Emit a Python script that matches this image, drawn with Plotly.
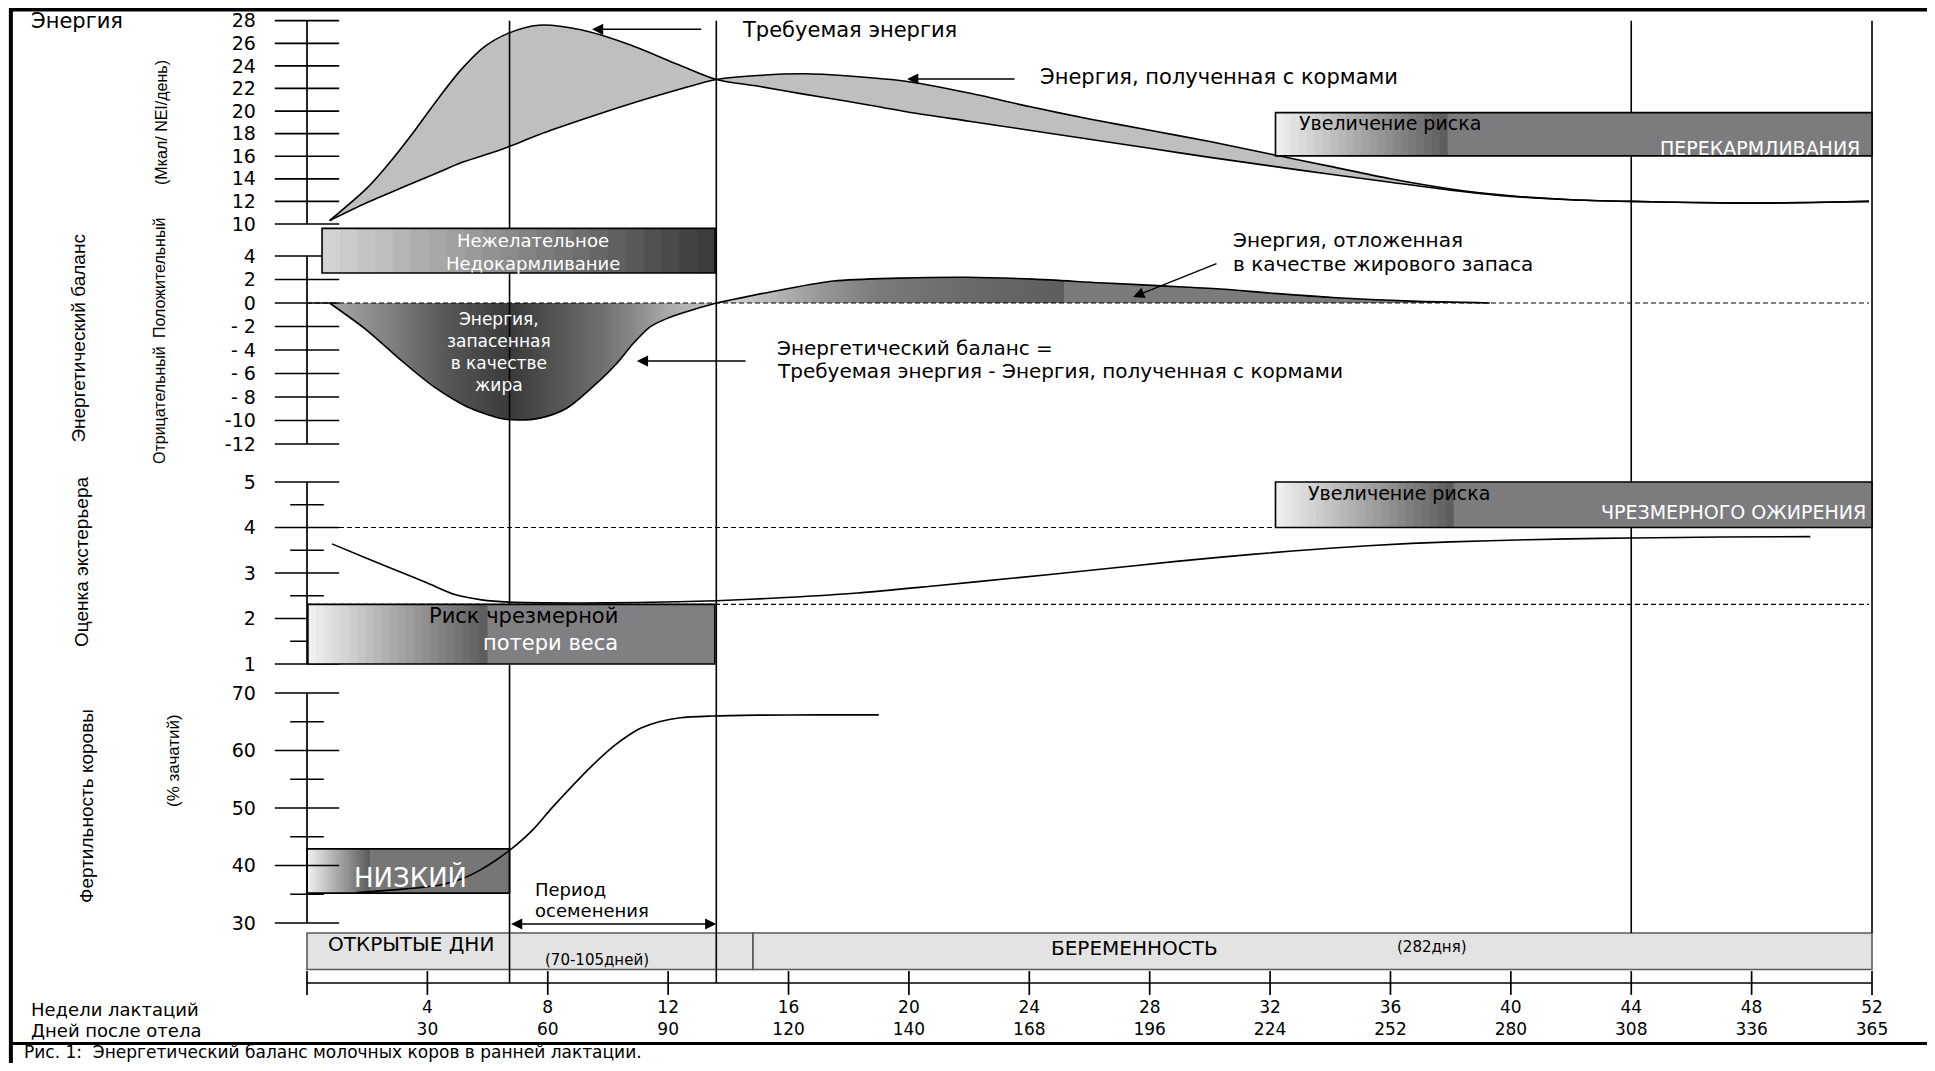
import plotly.graph_objects as go

# ---------------- data ----------------
E_WEEKS = [0.75, 2.0, 2.7, 3.5, 4.3, 5.1, 5.9, 6.7, 7.7, 9.1, 10.7, 12.35, 13.6, 15.0, 16.5, 18.0,
           20.0, 22.0, 24.0, 26.0, 28.0, 30.0, 32.0, 34.0, 36.0, 38.0, 40.0, 42.0, 44.0, 46.0, 48.0, 50.0, 51.9]
E_REQUIRED = [10.3, 13.2, 15.3, 18.0, 20.9, 23.6, 25.7, 26.9, 27.6, 27.2, 25.9, 24.1, 22.8, 22.2, 21.5, 20.85,
              19.9, 19.1, 18.3, 17.5, 16.7, 15.9, 15.15, 14.4, 13.7, 13.0, 12.45, 12.15, 12.0, 11.9, 11.85, 11.9, 12.0]
E_FEED = [10.3, 11.9, 12.7, 13.6, 14.5, 15.4, 16.1, 16.85, 17.9, 19.2, 20.6, 21.9, 22.8, 23.15, 23.3, 23.1,
          22.6, 21.6, 20.4, 19.3, 18.3, 17.3, 16.2, 15.1, 14.0, 13.1, 12.5, 12.15, 12.0, 11.9, 11.85, 11.9, 12.0]

BAL_NEG_W = [0.75, 1.98, 3.09, 4.2, 5.3, 6.41, 6.97, 7.74, 8.63, 9.74, 10.29, 10.84, 11.4, 11.95, 13.06, 13.6]
BAL_NEG_V = [0, -2.3, -4.8, -7.1, -8.8, -9.8, -9.96, -9.8, -8.96, -6.56, -5.15, -3.45, -2.04, -1.33, -0.39, 0]
BAL_POS_W = [13.6, 15.27, 17.49, 19.7, 21.92, 24.13, 26.35, 28.57, 30.34, 32.0, 34.07, 36.7, 39.3]
BAL_POS_V = [0, 0.88, 1.87, 2.12, 2.19, 2.03, 1.72, 1.44, 1.19, 0.85, 0.47, 0.16, 0]

BCS_W = [0.83, 2.0, 3.0, 4.0, 4.94, 5.8, 6.7, 9.0, 11.0, 13.6, 15.9, 18.3, 20.9, 23.5, 26.2, 28.8,
         31.4, 34.1, 36.7, 39.3, 41.9, 44.0, 47.0, 49.95]
BCS_V = [3.64, 3.32, 3.05, 2.78, 2.52, 2.41, 2.36, 2.34, 2.35, 2.39, 2.46, 2.56, 2.72, 2.89, 3.07, 3.25,
         3.41, 3.55, 3.65, 3.71, 3.75, 3.77, 3.79, 3.80]

FERT_W = [1.65, 3.0, 4.42, 5.2, 5.75, 6.3, 6.75, 7.5, 8.1, 8.7, 9.5, 10.2, 10.7, 11.1, 11.7, 12.4, 13.45, 15.0, 17.0, 19.0]
FERT_V = [35.3, 35.8, 36.6, 37.8, 39.2, 41.0, 42.7, 46.2, 49.8, 53.2, 57.5, 60.8, 62.7, 63.9, 65.0, 65.7, 66.0, 66.15, 66.2, 66.2]

E_TICKS = [10, 12, 14, 16, 18, 20, 22, 24, 26, 28]
BAL_TICKS = [-12, -10, -8, -6, -4, -2, 0, 2, 4]
BAL_TICK_TEXT = ["-12", "-10", "- 8", "- 6", "- 4", "- 2", "0", "2", "4"]
BCS_TICKS = [1, 2, 3, 4, 5]
BCS_MINOR = [1.5, 2.5, 3.5, 4.5]
FERT_TICKS = [30, 40, 50, 60, 70]
FERT_MINOR = [35, 45, 55, 65]
X_WEEKS = [0, 4, 8, 12, 16, 20, 24, 28, 32, 36, 40, 44, 48, 52]
X_DAYS = ["", "30", "60", "90", "120", "140", "168", "196", "224", "252", "280", "308", "336", "365"]

PHASE_LINES_MAIN = [6.73, 13.6]
PHASE_LINES_LATE = [44, 52]
OPEN_DAYS = [0, 14.82]
PREGNANCY = [14.82, 52]
BCS_HIGH, BCS_HIGH_END = 4.0, 32.18
BCS_LOW, DASH_END = 2.31, 51.9

# ---------------- layout geometry ----------------
SCREEN_W, SCREEN_H = 1935, 1071
OFF = 8
FIG_W, FIG_H = SCREEN_W - 2 * OFF, SCREEN_H - 2 * OFF
FONT = "DejaVu Sans"
FONT_N = "Liberation Sans"


def pxx(px):
    return (px - OFF) / FIG_W


def pxy(py):
    return 1 - (py - OFF) / FIG_H


def lin(cal, v):
    (v1, p1), (v2, p2) = cal
    return p1 + (v - v1) * (p2 - p1) / (v2 - v1)


X_CAL = ((0, 307.0), (52, 1872.0))
X_RANGE = [-1, 53]
Y_CAL = {"y": ((10, 224.0), (28, 20.7)),
         "y2": ((0, 303.0), (-12, 444.0)),
         "y3": ((5, 482.0), (1, 664.0)),
         "y4": ((70, 693.0), (30, 923.0)),
         "y5": ((0, 983.0), (1, 933.0))}
Y_RANGE = {"y": [9.5, 28.6], "y2": [-13, 7.5], "y3": [0.8, 5.3], "y4": [28.5, 72], "y5": [-0.5, 1.4]}


def ydom(k):
    return [pxy(lin(Y_CAL[k], Y_RANGE[k][0])), pxy(lin(Y_CAL[k], Y_RANGE[k][1]))]


def ypaper(k, v):
    return pxy(lin(Y_CAL[k], v))


fig = go.Figure()
BLACK = "black"
LW = 1.6

# energy area
fig.add_trace(go.Scatter(x=E_WEEKS, y=E_REQUIRED, mode="lines", yaxis="y",
                         line=dict(color=BLACK, width=LW, shape="spline", smoothing=0.8)))
fig.add_trace(go.Scatter(x=E_WEEKS, y=E_FEED, mode="lines", yaxis="y", fill="tonexty", fillcolor="#bfbfbf",
                         line=dict(color=BLACK, width=LW, shape="spline", smoothing=0.8)))

# energy balance
NEG_SCALE = [[0, "#a8a8a8"], [0.18, "#7a7a7a"], [0.31, "#555555"], [0.47, "#3a3a3a"], [0.61, "#5a5a5a"],
             [0.70, "#6e6e6e"], [0.79, "#8a8a8a"], [0.87, "#a8a8a8"], [1, "#c4c4c4"]]
POS_SCALE = [[0, "#d6d6d6"], [0.04, "#c8c8c8"], [0.13, "#9a9a9a"], [0.21, "#7a7a7a"], [0.34, "#686868"],
             [0.449, "#5e5e5e"], [0.45, "#7b7b7b"], [1, "#7b7b7b"]]
fig.add_trace(go.Scatter(x=BAL_NEG_W, y=BAL_NEG_V, mode="lines", yaxis="y2", fill="tozeroy",
                         fillgradient=dict(type="horizontal", colorscale=NEG_SCALE),
                         line=dict(color=BLACK, width=LW, shape="spline", smoothing=0.8)))
fig.add_trace(go.Scatter(x=BAL_POS_W, y=BAL_POS_V, mode="lines", yaxis="y2", fill="tozeroy",
                         fillgradient=dict(type="horizontal", colorscale=POS_SCALE),
                         line=dict(color=BLACK, width=LW, shape="spline", smoothing=0.8)))
fig.add_trace(go.Scatter(x=[0, DASH_END], y=[0, 0], mode="lines", yaxis="y2",
                         line=dict(color=BLACK, width=1.2, dash="5px,3px")))

# body condition
fig.add_trace(go.Scatter(x=BCS_W, y=BCS_V, mode="lines", yaxis="y3",
                         line=dict(color=BLACK, width=LW, shape="spline", smoothing=0.8)))
fig.add_trace(go.Scatter(x=[0, BCS_HIGH_END], y=[BCS_HIGH, BCS_HIGH], mode="lines", yaxis="y3",
                         line=dict(color=BLACK, width=1.2, dash="5px,3px")))
fig.add_trace(go.Scatter(x=[0, DASH_END], y=[BCS_LOW, BCS_LOW], mode="lines", yaxis="y3",
                         line=dict(color=BLACK, width=1.2, dash="5px,3px")))

# fertility
fig.add_trace(go.Scatter(x=FERT_W, y=FERT_V, mode="lines", yaxis="y4",
                         line=dict(color=BLACK, width=LW, shape="spline", smoothing=0.8)))


# custom axes with crossing ticks
def y_axis_traces(yaxis, major, minor=()):
    vals = list(major) + list(minor)
    fig.add_trace(go.Scatter(x=[0, 0], y=[min(vals), max(vals)], mode="lines", yaxis=yaxis,
                             line=dict(color=BLACK, width=1.7), cliponaxis=False))
    fig.add_trace(go.Scatter(x=[0] * len(major), y=list(major), mode="markers", yaxis=yaxis, cliponaxis=False,
                             marker=dict(symbol="line-ew", size=46, line=dict(color=BLACK, width=1.7))))
    if minor:
        fig.add_trace(go.Scatter(x=[0] * len(minor), y=list(minor), mode="markers", yaxis=yaxis, cliponaxis=False,
                                 marker=dict(symbol="line-ew", size=24, line=dict(color=BLACK, width=1.7))))


y_axis_traces("y", E_TICKS)
y_axis_traces("y2", BAL_TICKS)
y_axis_traces("y3", BCS_TICKS, BCS_MINOR)
y_axis_traces("y4", FERT_TICKS, FERT_MINOR)
fig.add_trace(go.Scatter(x=[X_WEEKS[0], X_WEEKS[-1]], y=[0, 0], mode="lines", yaxis="y5",
                         line=dict(color=BLACK, width=1.7), cliponaxis=False))
fig.add_trace(go.Scatter(x=X_WEEKS, y=[0] * len(X_WEEKS), mode="markers", yaxis="y5", cliponaxis=False,
                         marker=dict(symbol="line-ns", size=17, line=dict(color=BLACK, width=1.7))))

# ---------------- shapes ----------------
shapes = []
# timeline strip
for seg in (OPEN_DAYS, PREGNANCY):
    shapes.append(dict(type="rect", xref="x", yref="y5", x0=seg[0], x1=seg[1], y0=0.27, y1=1.0,
                       fillcolor="#e3e3e3", line=dict(color="#5a5a5a", width=1.6), layer="above"))
# vertical phase lines
for w in PHASE_LINES_MAIN:
    shapes.append(dict(type="line", xref="x", yref="paper", x0=w, x1=w, y0=ypaper("y5", 0), y1=ypaper("y", 28),
                       line=dict(color=BLACK, width=1.6), layer="above"))
for w in PHASE_LINES_LATE:
    shapes.append(dict(type="line", xref="x", yref="paper", x0=w, x1=w, y0=ypaper("y5", 1), y1=ypaper("y", 28),
                       line=dict(color=BLACK, width=1.6), layer="above"))


def hex2rgb(h):
    h = h.lstrip("#")
    return tuple(int(h[i:i + 2], 16) for i in (0, 2, 4))


def mix(c1, c2, t):
    a, b = hex2rgb(c1), hex2rgb(c2)
    return "rgb(%d,%d,%d)" % tuple(round(a[i] + (b[i] - a[i]) * t) for i in range(3))


def grad_box(x0, x1, y0, y1, yref, xg, light, dark, flat, n=22, layer="above"):
    span = xg - x0
    for i in range(n):
        xa = x0 + span * i / n
        xb = x0 + span * (i + 1) / n + span * 0.01
        shapes.append(dict(type="rect", xref="x", yref=yref, x0=xa, x1=min(xb, x1), y0=y0, y1=y1,
                           fillcolor=mix(light, dark, i / (n - 1)), line=dict(width=0), layer=layer))
    if xg < x1:
        shapes.append(dict(type="rect", xref="x", yref=yref, x0=xg, x1=x1, y0=y0, y1=y1,
                           fillcolor=flat, line=dict(width=0), layer=layer))
    shapes.append(dict(type="rect", xref="x", yref=yref, x0=x0, x1=x1, y0=y0, y1=y1,
                       fillcolor="rgba(0,0,0,0)", line=dict(color=BLACK, width=1.6), layer=layer))


grad_box(0.5, 13.56, 2.55, 6.35, "y2", 13.56, "#d2d2d2", "#3c3c3c", "#3c3c3c")
grad_box(32.18, 52.0, 16.03, 19.86, "y", 37.9, "#eeeeee", "#5e5e5e", "#7c7c7e")
grad_box(32.18, 52.0, 4.0, 5.0, "y3", 38.1, "#eeeeee", "#5e5e5e", "#7c7c7e")
grad_box(0.03, 13.55, 1.0, 2.31, "y3", 6.0, "#f0f0f0", "#5e5e5e", "#808083")
grad_box(0.0, 6.73, 35.2, 42.9, "y4", 2.1, "#eeeeee", "#5e5e5e", "#767676", layer="below")

# frame + caption separator
shapes.append(dict(type="rect", xref="paper", yref="paper", x0=0.0015, x1=pxx(1929), y0=-0.02, y1=pxy(9.5),
                   line=dict(color=BLACK, width=4), fillcolor="rgba(0,0,0,0)", layer="above"))
shapes.append(dict(type="line", xref="paper", yref="paper", x0=0.0015, x1=pxx(1929), y0=pxy(1043.5), y1=pxy(1043.5),
                   line=dict(color=BLACK, width=3.2), layer="above"))

# ---------------- annotations ----------------
anns = []


def txt(t, x, y, xref, yref, size, color=BLACK, xanchor="left", yanchor="middle", family=FONT, angle=0):
    anns.append(dict(text=t, x=x, y=y, xref=xref, yref=yref, showarrow=False, xanchor=xanchor, yanchor=yanchor,
                     textangle=angle, font=dict(family=family, size=size, color=color)))


def arrow(xt, yt, xs, ys, yref, both=False):
    anns.append(dict(text="", x=xt, y=yt, ax=xs, ay=ys, xref="x", yref=yref, axref="x", ayref=yref,
                     showarrow=True, arrowhead=2, arrowsize=1.6, arrowwidth=1.4, arrowcolor=BLACK,
                     arrowside="end+start" if both else "end", standoff=0, startstandoff=0))


# left titles
txt("Энергия", pxx(29), pxy(20.7), "paper", "paper", 21)
txt("(Мкал/ NEI/день)", pxx(161), pxy(123), "paper", "paper", 16, xanchor="center", family=FONT_N, angle=-90)
txt("Энергетический баланс", pxx(77.6), pxy(338), "paper", "paper", 19, xanchor="center", family=FONT_N, angle=-90)
txt("Положительный", pxx(159), pxy(278), "paper", "paper", 16, xanchor="center", family=FONT_N, angle=-90)
txt("Отрицательный", pxx(159), pxy(405), "paper", "paper", 16, xanchor="center", family=FONT_N, angle=-90)
txt("Оценка экстерьера", pxx(81), pxy(562), "paper", "paper", 19, xanchor="center", family=FONT_N, angle=-90)
txt("Фертильность коровы", pxx(86), pxy(806), "paper", "paper", 19, xanchor="center", family=FONT_N, angle=-90)
txt("(% зачатий)", pxx(173), pxy(761), "paper", "paper", 17, xanchor="center", family=FONT_N, angle=-90)

# energy panel
txt("Требуемая энергия", 14.4, 27.2, "x", "y", 21)
arrow(9.47, 27.24, 13.15, 27.24, "y")
txt("Энергия, полученная с кормами", 24.3, 23.0, "x", "y", 21)
arrow(19.94, 22.84, 23.56, 22.84, "y")
txt("Увеличение риска", 32.9, 18.9, "x", "y", 19)
txt("ПЕРЕКАРМЛИВАНИЯ", 51.67, 16.7, "x", "y", 19, color="white", xanchor="right")

# balance panel
txt("Нежелательное", 7.5, 5.3, "x", "y2", 18, color="white", xanchor="center")
txt("Недокармливание", 7.5, 3.32, "x", "y2", 18, color="white", xanchor="center")
txt("Энергия,<br>запасенная<br>в качестве<br>жира", 6.38, -4.2, "x", "y2", 17, color="white", xanchor="center")
txt("Энергия, отложенная", 30.7, 5.36, "x", "y2", 20)
txt("в качестве жирового запаса", 30.7, 3.32, "x", "y2", 20)
arrow(27.45, 0.51, 30.27, 3.4, "y2")
txt("Энергетический баланс =", 15.55, -3.83, "x", "y2", 20)
txt("Требуемая энергия - Энергия, полученная с кормами", 15.55, -5.79, "x", "y2", 20)
arrow(10.96, -4.94, 14.62, -4.94, "y2")

# body condition panel
txt("Увеличение риска", 33.2, 4.76, "x", "y3", 19)
txt("ЧРЕЗМЕРНОГО ОЖИРЕНИЯ", 51.87, 4.33, "x", "y3", 19, color="white", xanchor="right")
txt("Риск чрезмерной", 7.2, 2.06, "x", "y3", 21, xanchor="center")
txt("потери веса", 8.1, 1.47, "x", "y3", 21, color="white", xanchor="center")

# fertility panel
txt("НИЗКИЙ", 3.43, 38.0, "x", "y4", 26, color="white", xanchor="center")
txt("Период", 7.5, 35.74, "x", "y4", 18)
txt("осеменения", 7.5, 32.26, "x", "y4", 18)
arrow(PHASE_LINES_MAIN[1], 29.83, PHASE_LINES_MAIN[0], 29.83, "y4", both=True)

# timeline strip
txt("ОТКРЫТЫЕ ДНИ", 0.63, 0.78, "x", "y5", 20)
txt("(70-105дней)", 9.64, 0.47, "x", "y5", 15, xanchor="center")
txt("БЕРЕМЕННОСТЬ", 24.65, 0.70, "x", "y5", 20)
txt("(282дня)", 36.15, 0.73, "x", "y5", 15)

# x axis side labels + caption
txt("Недели лактаций", pxx(29), pxy(1009), "paper", "paper", 18)
txt("Дней после отела", pxx(29), pxy(1030), "paper", "paper", 18)
txt("Рис. 1:  Энергетический баланс молочных коров в ранней лактации.", pxx(22), pxy(1051.5), "paper", "paper", 17)

# ---------------- axes ----------------
tickfont = dict(family=FONT, size=19, color=BLACK)
common_y = dict(showgrid=False, zeroline=False, showline=False, ticks="", anchor="x", tickfont=tickfont,
                ticklabelstandoff=20, automargin=False, fixedrange=True)

fig.update_layout(
    width=FIG_W, height=FIG_H,
    margin=dict(l=0, r=0, t=0, b=0, pad=0),
    template="none",
    paper_bgcolor="white", plot_bgcolor="rgba(0,0,0,0)",
    showlegend=False, hovermode=False,
    xaxis=dict(domain=[pxx(lin(X_CAL, X_RANGE[0])), pxx(lin(X_CAL, X_RANGE[1]))], range=X_RANGE,
               anchor="free", position=ypaper("y5", 0), showgrid=False, zeroline=False, showline=False,
               ticks="", tickvals=X_WEEKS[1:],
               ticktext=["%d<br>%s" % (w, d) for w, d in zip(X_WEEKS[1:], X_DAYS[1:])],
               tickfont=dict(family=FONT, size=17, color=BLACK), ticklabelstandoff=12, automargin=False,
               fixedrange=True),
    yaxis=dict(domain=ydom("y"), range=Y_RANGE["y"], tickvals=E_TICKS, ticktext=[str(v) for v in E_TICKS], **common_y),
    yaxis2=dict(domain=ydom("y2"), range=Y_RANGE["y2"], tickvals=BAL_TICKS, ticktext=BAL_TICK_TEXT, **common_y),
    yaxis3=dict(domain=ydom("y3"), range=Y_RANGE["y3"], tickvals=BCS_TICKS, ticktext=[str(v) for v in BCS_TICKS],
                **common_y),
    yaxis4=dict(domain=ydom("y4"), range=Y_RANGE["y4"], tickvals=FERT_TICKS, ticktext=[str(v) for v in FERT_TICKS],
                **common_y),
    yaxis5=dict(domain=ydom("y5"), range=Y_RANGE["y5"], visible=False, anchor="x", fixedrange=True),
    shapes=shapes,
    annotations=anns,
)

fig.write_html("out.html", config={"displayModeBar": False})
